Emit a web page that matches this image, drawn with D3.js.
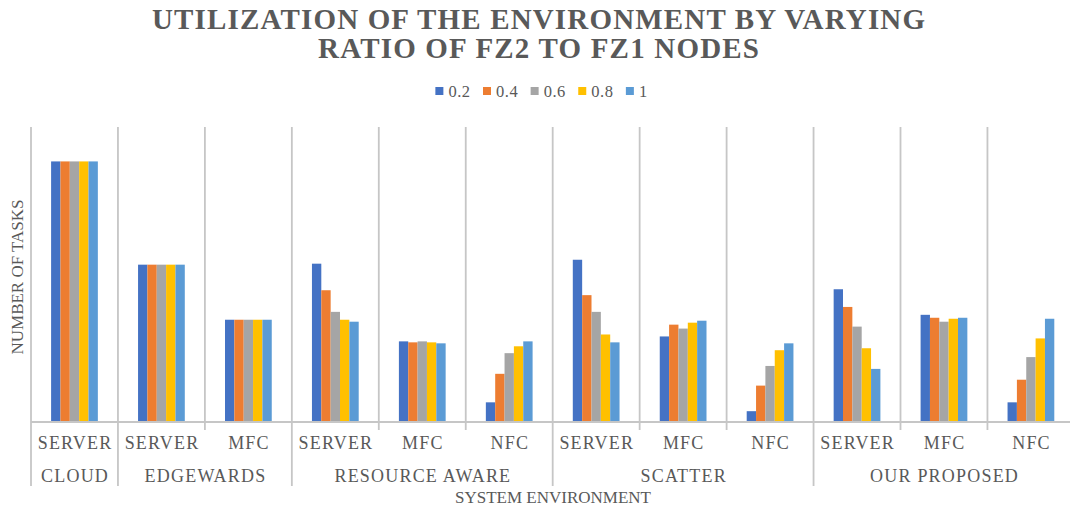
<!DOCTYPE html>
<html>
<head>
<meta charset="utf-8">
<script src="https://cdn.jsdelivr.net/npm/d3@7"></script>
<style>
  html, body { margin: 0; padding: 0; background: #ffffff; }
  svg { display: block; }
</style>
</head>
<body>
<svg id="chart" width="1070" height="511"></svg>
<script>
// Sub-categories (server tiers) and the environment each one belongs to
const subLabels = ["SERVER", "SERVER", "MFC", "SERVER", "MFC", "NFC",
                   "SERVER", "MFC", "NFC", "SERVER", "MFC", "NFC"];
const groupLabels = ["CLOUD", "EDGEWARDS", "RESOURCE AWARE", "SCATTER", "OUR PROPOSED"];
const groupSizes = [1, 2, 3, 3, 3];

// Ratio of FZ2 to FZ1 nodes (legend entries)
const seriesNames = ["0.2", "0.4", "0.6", "0.8", "1"];
const seriesColors = ["#4472C4", "#ED7D31", "#A5A5A5", "#FFC000", "#5B9BD5"];

// Number of tasks placed on each tier, one array per ratio
const ratio02 = [265, 160, 104, 161, 82, 20, 165, 87, 11, 135, 109, 20];
const ratio04 = [265, 160, 104, 134, 81, 49, 129, 99, 37, 117, 106, 43];
const ratio06 = [265, 160, 104, 112, 82, 70, 112, 95, 57, 97, 102, 66];
const ratio08 = [265, 160, 104, 104, 81, 77, 89, 101, 73, 75, 105, 85];
const ratio10 = [265, 160, 104, 102, 80, 82, 81, 103, 80, 54, 106, 105];
const seriesValues = [ratio02, ratio04, ratio06, ratio08, ratio10];

const yMax = 300;

const svg = d3.select("#chart");
const textColor = "#595959";
const gridColor = "#c6c6c6";
const serif = "'Liberation Serif', 'Times New Roman', serif";

const plot = { left: 31, right: 1074.4, top: 127, bottom: 422 };

const x = d3.scaleBand()
  .domain(d3.range(subLabels.length))
  .range([plot.left, plot.right])
  .paddingInner(0)
  .paddingOuter(0);

const xInner = d3.scaleBand()
  .domain(seriesNames)
  .range([0, x.bandwidth()])
  .paddingInner(0)
  .paddingOuter(2.15);

const y = d3.scaleLinear().domain([0, yMax]).range([plot.bottom, plot.top]);

// Title
const title = svg.append("g")
  .attr("font-family", serif)
  .attr("font-weight", "bold")
  .attr("font-size", 29)
  .attr("fill", textColor)
  .attr("text-anchor", "middle");
title.append("text").attr("x", 538.5).attr("y", 29)
  .attr("textLength", 773).attr("lengthAdjust", "spacing")
  .text("UTILIZATION OF THE ENVIRONMENT BY VARYING");
title.append("text").attr("x", 538.5).attr("y", 58)
  .attr("textLength", 441).attr("lengthAdjust", "spacing")
  .text("RATIO OF FZ2 TO FZ1 NODES");

// Legend
const legend = svg.append("g").attr("font-family", serif).attr("font-size", 16.5).attr("fill", textColor);
let lx = 0;
seriesNames.forEach((name, i) => {
  const item = legend.append("g");
  item.append("rect").attr("x", 0).attr("y", -4).attr("width", 8).attr("height", 8)
    .attr("fill", seriesColors[i]);
  const t = item.append("text").attr("x", 13).attr("y", 0).attr("dy", "0.35em")
    .attr("letter-spacing", 0.5).text(name);
  const w = t.node().getComputedTextLength();
  item.attr("transform", `translate(${lx},0)`);
  lx += 13 + w + 12.5;
});
const legendWidth = lx - 12.5;
legend.attr("transform", `translate(${541.5 - legendWidth / 2},91)`);

// Vertical gridlines at every band edge; environment boundaries run down through the labels
const edges = d3.range(subLabels.length + 1).map(i =>
  i < subLabels.length ? x(i) : plot.right);
const groupStarts = new Set([0]);
let acc = 0;
groupSizes.forEach(s => { acc += s; groupStarts.add(acc); });

svg.append("g").selectAll("line").data(edges).join("line")
  .attr("x1", d => d).attr("x2", d => d)
  .attr("y1", plot.top)
  .attr("y2", (d, i) => groupStarts.has(i) ? 486 : 430)
  .attr("stroke", gridColor).attr("stroke-width", 1.8);

// Bars
const bars = svg.append("g");
subLabels.forEach((lab, ci) => {
  seriesNames.forEach((s, si) => {
    const v = seriesValues[si][ci];
    bars.append("rect")
      .attr("x", x(ci) + xInner(s))
      .attr("y", y(v))
      .attr("width", xInner.bandwidth())
      .attr("height", y(0) - y(v))
      .attr("fill", seriesColors[si]);
  });
});

// Baseline
svg.append("line")
  .attr("x1", plot.left).attr("x2", 1070)
  .attr("y1", plot.bottom).attr("y2", plot.bottom)
  .attr("stroke", gridColor).attr("stroke-width", 1.8);

// Category labels, first level
svg.append("g").attr("font-family", serif).attr("font-size", 18).attr("fill", textColor)
  .attr("text-anchor", "middle").attr("letter-spacing", 1.2)
  .selectAll("text").data(subLabels).join("text")
  .attr("x", (d, i) => x(i) + x.bandwidth() / 2 + 0.6)
  .attr("y", 449)
  .text(d => d);

// Category labels, second level (environments)
const groupCenters = [];
acc = 0;
groupSizes.forEach(s => {
  groupCenters.push((x(acc) + (acc + s < subLabels.length ? x(acc + s) : plot.right)) / 2);
  acc += s;
});
svg.append("g").attr("font-family", serif).attr("font-size", 18).attr("fill", textColor)
  .attr("text-anchor", "middle").attr("letter-spacing", 1.2)
  .selectAll("text").data(groupLabels).join("text")
  .attr("x", (d, i) => groupCenters[i] + 0.6)
  .attr("y", 482)
  .text(d => d);

// Axis titles
svg.append("text")
  .attr("font-family", serif).attr("font-size", 16).attr("fill", textColor)
  .attr("text-anchor", "middle")
  .attr("x", 553).attr("y", 503)
  .attr("textLength", 196).attr("lengthAdjust", "spacingAndGlyphs")
  .text("SYSTEM ENVIRONMENT");

svg.append("text")
  .attr("font-family", serif).attr("font-size", 16).attr("fill", textColor)
  .attr("text-anchor", "middle")
  .attr("transform", "translate(23,277) rotate(-90)")
  .attr("textLength", 155).attr("lengthAdjust", "spacingAndGlyphs")
  .text("NUMBER OF TASKS");
</script>
</body>
</html>
